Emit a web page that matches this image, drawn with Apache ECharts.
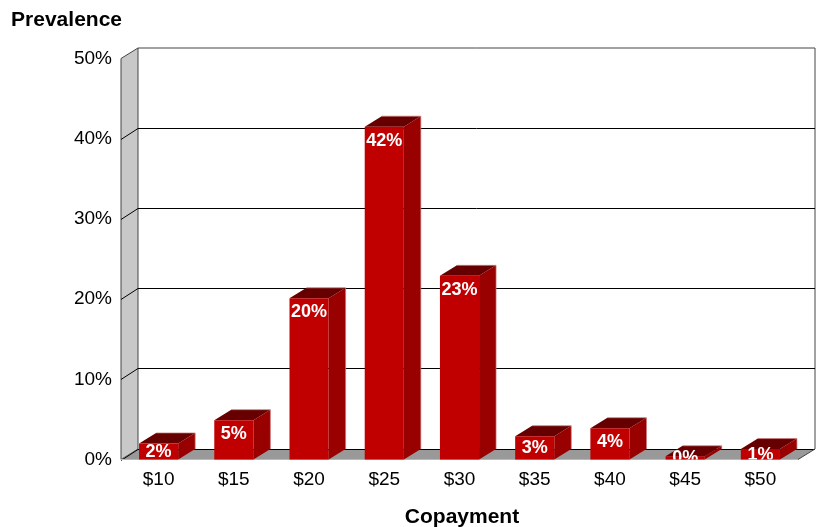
<!DOCTYPE html>
<html>
<head>
<meta charset="utf-8">
<style>html,body{margin:0;padding:0;background:#fff}#chart{width:822px;height:527px}</style>
<script src="https://cdn.jsdelivr.net/npm/echarts@6/dist/echarts.min.js"></script>
</head>
<body>
<div id="chart"></div>
<script>
// Copayment prevalence, drawn as extruded columns in a box with depth.
const copayments = ['$10', '$15', '$20', '$25', '$30', '$35', '$40', '$45', '$50'];
const prevalence = [2.0, 4.9, 20.1, 41.5, 22.9, 2.9, 3.9, 0.4, 1.3];
const axisTicks = [0, 10, 20, 30, 40, 50];

const DEPTH_X = 17, DEPTH_Y = -10.5;
const FONT = '"Liberation Sans", Arial, sans-serif';

const chart = echarts.init(document.getElementById('chart'), null, { renderer: 'canvas' });

function poly(points, fill, stroke, width) {
  return {
    type: 'polygon',
    shape: { points },
    style: { fill, stroke: stroke || null, lineWidth: width || 0 }
  };
}
function seg(x1, y1, x2, y2, stroke, width) {
  return {
    type: 'line',
    shape: { x1, y1, x2, y2 },
    style: { stroke, lineWidth: width || 1 }
  };
}

// Left wall, floor, back wall lines and the gridlines that wrap around them.
function renderBox(params, api) {
  const cs = params.coordSys;
  const L = cs.x, R = cs.x + cs.width;
  const T = api.coord([0, 50])[1], B = api.coord([0, 0])[1];
  const bL = L + DEPTH_X, bR = R + DEPTH_X;
  const children = [
    poly([[L, B], [bL, B + DEPTH_Y], [bL, T + DEPTH_Y], [L, T]], '#c8c8c8', '#444', 1),
    poly([[L, B], [bL, B + DEPTH_Y], [bR, B + DEPTH_Y], [R, B]], '#999999'),
    seg(bR, T + DEPTH_Y, bR, B + DEPTH_Y, '#444', 1),
    seg(bL, T + DEPTH_Y, bR, T + DEPTH_Y, '#444', 1)
  ];
  axisTicks.forEach(function (t) {
    const y = Math.round(api.coord([0, t])[1]) + 0.5;
    if (t !== 50) {
      const by = Math.round(y + DEPTH_Y) - 0.5;
      children.push(seg(L, y, bL, by, '#000', 1));
      children.push(seg(bL, by, bR, by, '#000', 1));
    }
  });
  children.push(seg(L, B, L + cs.width, B, '#b8b8b8', 1));
  children.push(seg(R, B, bR, B + DEPTH_Y, '#444', 1));
  return { type: 'group', children };
}

// One extruded column with its percentage on the front face.
function renderColumn(params, api) {
  const i = api.value(0), v = api.value(1);
  const top = api.coord([i, v]), base = api.coord([i, 0]);
  const w = api.size([1, 0])[0] * 0.52;
  const x0 = top[0] - w / 2, x1 = top[0] + w / 2;
  const yT = top[1], yB = base[1];
  const h = yB - yT;
  const labelY = h >= 24 ? yT + 14 : (yT + yB) / 2 + 0.5;
  return {
    type: 'group',
    children: [
      poly([[x1, yB], [x1 + DEPTH_X, yB + DEPTH_Y], [x1 + DEPTH_X, yT + DEPTH_Y], [x1, yT]], '#990000'),
      poly([[x0, yT], [x0 + DEPTH_X, yT + DEPTH_Y], [x1 + DEPTH_X, yT + DEPTH_Y], [x1, yT]], '#660000'),
      seg(x0 + DEPTH_X, yT + DEPTH_Y, x1 + DEPTH_X, yT + DEPTH_Y, '#cc7a7a', 0.7),
      seg(x1 + DEPTH_X, yT + DEPTH_Y, x1 + DEPTH_X, yB + DEPTH_Y, '#cc7a7a', 0.7),
      { type: 'rect', shape: { x: x0, y: yT, width: w, height: h }, style: { fill: '#c00000' } },
      {
        type: 'text',
        clipPath: { type: 'rect', shape: { x: x0 - 10, y: yT - 20, width: w + 20, height: h + 20 } },
        style: {
          text: Math.round(v) + '%',
          x: top[0],
          y: labelY,
          fill: '#ffffff',
          font: 'bold 18px ' + FONT,
          textAlign: 'center',
          textVerticalAlign: 'middle'
        }
      }
    ]
  };
}

chart.setOption({
  animation: false,
  backgroundColor: '#ffffff',
  grid: { left: 121, top: 58.5, width: 677, height: 401, outerBoundsMode: 'none' },
  xAxis: {
    type: 'category',
    data: copayments,
    name: 'Copayment',
    nameLocation: 'middle',
    nameGap: 47,
    nameTextStyle: { fontFamily: FONT, fontSize: 21, fontWeight: 'bold', color: '#000', padding: [0, 0, 0, 5] },
    axisLine: { show: false },
    axisTick: { show: false },
    axisLabel: { fontFamily: FONT, fontSize: 19, color: '#000', margin: 11 }
  },
  yAxis: {
    type: 'value',
    min: axisTicks[0],
    max: axisTicks[axisTicks.length - 1],
    interval: 10,
    name: 'Prevalence',
    nameLocation: 'end',
    nameGap: 28,
    nameTextStyle: { fontFamily: FONT, fontSize: 21, fontWeight: 'bold', color: '#000', align: 'right', padding: [0, -1, 0, 0] },
    axisLine: { show: false },
    axisTick: { show: false },
    splitLine: { show: false },
    axisLabel: { fontFamily: FONT, fontSize: 19, color: '#000', margin: 9, padding: [4, 0, 0, 0], formatter: '{value}%' }
  },
  series: [
    {
      type: 'custom',
      name: 'box',
      silent: true,
      clip: false,
      z: 1,
      data: [[0, 0]],
      renderItem: renderBox
    },
    {
      type: 'custom',
      name: 'Prevalence',
      clip: false,
      z: 2,
      encode: { x: 0, y: 1 },
      data: prevalence.map(function (v, i) { return [i, v]; }),
      renderItem: renderColumn
    }
  ]
});
</script>
</body>
</html>
